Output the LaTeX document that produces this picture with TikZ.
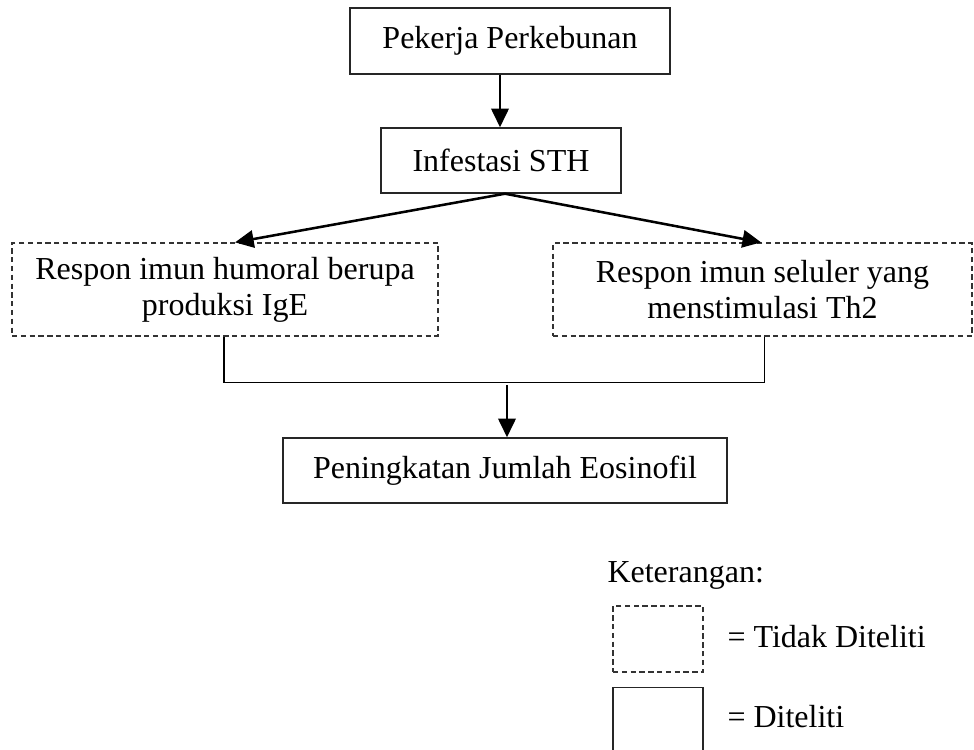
\documentclass[tikz,border=0pt]{standalone}
\usepackage{fontspec}
\setmainfont{Liberation Serif}
\usepackage{tikz}
\usetikzlibrary{arrows.meta, positioning, calc}

\tikzset{
  solidbox/.style={draw=black!85, line width=0.5pt, inner sep=0pt,
    font=\fontsize{12}{13.5}\selectfont},
  dashbox/.style={draw=black!80, line width=0.45pt,
    dash pattern=on 2pt off 1.3pt, inner sep=0pt, align=center,
    font=\fontsize{12}{13.5}\selectfont},
  arr/.style={-{Triangle[length=7pt,width=6.5pt]}, line width=0.95pt},
  lbl/.style={font=\fontsize{12}{13.5}\selectfont, anchor=base west, inner sep=0pt}
}

\begin{document}
\begin{tikzpicture}[x=0.375pt,y=-0.375pt,>=Stealth]
    \clip (0,0) rectangle (974,749);

    % main boxes
    \node[solidbox, minimum width=120pt, minimum height=24.75pt]
      (pkj) at (510,41) {Pekerja Perkebunan};
    \node[solidbox, minimum width=90pt, minimum height=24.4pt]
      (sth) at (501,160.5) {Infestasi STH};
    \node[dashbox, minimum width=159.75pt, minimum height=34.9pt]
      (hum) at (225,289.5) {Respon imun humoral berupa\\produksi IgE};
    \node[dashbox, minimum width=157.1pt, minimum height=34.9pt]
      (sel) at (762.5,289.5) {Respon imun seluler yang\\menstimulasi Th2};
    \node[solidbox, minimum width=166.5pt, minimum height=24.4pt]
      (eos) at (505,470.5) {Peningkatan Jumlah Eosinofil};

    % arrows
    \draw[arr] (pkj.south -| 500,0) -- (sth.north -| 500,0);
    \draw[arr] ([xshift=1.5pt]sth.south) -- ([xshift=3.75pt]hum.north);
    \draw[arr] ([xshift=1.5pt]sth.south) -- ([xshift=-0.5pt]sel.north);

    % joining bracket
    \coordinate (jl) at ([xshift=-0.4pt]hum.south);
    \coordinate (jr) at ([xshift=0.6pt]sel.south);
    \coordinate (jm) at ([xshift=0.75pt,yshift=19.5pt]eos.north);
    \draw[line width=0.45pt] (jl) -- ++(0,46) -| (jr);
    \draw[arr] (jm) -- ([xshift=0.75pt]eos.north);

    % legend
    \node[lbl] (ket) at (607,582) {Keterangan:};
    \node[dashbox, minimum width=33.75pt, minimum height=24.75pt]
      (lgd) at (658,639) {};
    \node[solidbox, minimum width=33.75pt, minimum height=26pt, anchor=north]
      (lgs) at (658,687) {};
    \node[lbl] (tdk) at (727,647) {= Tidak Diteliti};
    \node[lbl] (dit) at (727,727) {= Diteliti};
  \end{tikzpicture}
\end{document}
